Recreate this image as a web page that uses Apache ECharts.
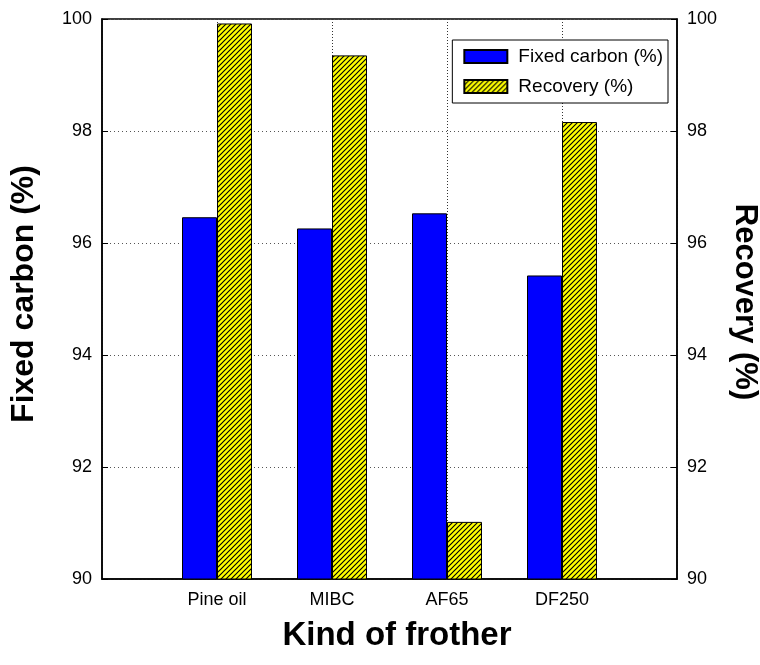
<!DOCTYPE html>
<html>
<head>
<meta charset="utf-8">
<script src="https://cdn.jsdelivr.net/npm/echarts@6/dist/echarts.min.js"></script>
<style>
html,body{margin:0;padding:0;background:#fff;}
#chart{width:760px;height:665px;}
</style>
</head>
<body>
<div id="chart"></div>
<script>
const categories = ['', 'Pine oil', 'MIBC', 'AF65', 'DF250', ''];
const fixedCarbon = ['-', 96.46, 96.26, 96.53, 95.42, '-'];
const recovery = ['-', 99.92, 99.35, 91.02, 98.16, '-'];
const yTicks = { min: 90, max: 100, interval: 2 };

const FONT = '"Liberation Sans", Arial, Helvetica, sans-serif';

function hatch() {
  const s = 5;
  const c = document.createElement('canvas');
  c.width = s; c.height = s;
  const g = c.getContext('2d');
  g.fillStyle = '#ffff00';
  g.fillRect(0, 0, s, s);
  g.strokeStyle = '#000';
  g.lineWidth = 1.15;
  g.beginPath();
  g.moveTo(-1, s + 1); g.lineTo(s + 1, -1);
  g.moveTo(-1, 1); g.lineTo(1, -1);
  g.moveTo(s - 1, s + 1); g.lineTo(s + 1, s - 1);
  g.stroke();
  return c;
}

const chart = echarts.init(document.getElementById('chart'), null, { renderer: 'canvas' });

const yAxisCommon = {
  type: 'value',
  min: yTicks.min, max: yTicks.max, interval: yTicks.interval,
  axisLine: { show: true, lineStyle: { color: '#000', width: 1.5 } },
  axisTick: { show: true, inside: true, length: 6, lineStyle: { color: '#000', width: 1 } },
  axisLabel: { color: '#000', fontSize: 18, fontFamily: FONT, margin: 10 }
};

chart.setOption({
  animation: false,
  backgroundColor: '#fff',
  grid: { left: 102, right: 83, top: 19, bottom: 86, show: true, borderColor: '#000', borderWidth: 1.5 },
  legend: {
    right: 760 - 668, top: 40,
    orient: 'vertical',
    icon: 'rect',
    itemWidth: 43, itemHeight: 13, itemGap: 11,
    padding: [7, 5, 7, 11],
    borderColor: '#000', borderWidth: 1, backgroundColor: '#fff',
    textStyle: { color: '#000', fontSize: 19, fontFamily: FONT, padding: [0, 0, 0, 6] },
    data: ['Fixed carbon (%)', 'Recovery (%)']
  },
  xAxis: {
    type: 'category',
    data: categories,
    boundaryGap: false,
    axisLine: { show: true, lineStyle: { color: '#000', width: 1.5 } },
    axisTick: { show: false },
    axisLabel: { color: '#000', fontSize: 18, fontFamily: FONT, margin: 12, interval: 0 },
    splitLine: { show: true, lineStyle: { color: '#333', type: [1, 2], width: 1 } }
  },
  yAxis: [
    Object.assign({}, yAxisCommon, {
      position: 'left',
      splitLine: { show: true, lineStyle: { color: '#555', type: [1, 3], width: 1 } }
    }),
    Object.assign({}, yAxisCommon, {
      position: 'right',
      splitLine: { show: false }
    })
  ],
  series: [
    {
      name: 'Fixed carbon (%)', type: 'bar', yAxisIndex: 0,
      data: fixedCarbon, barWidth: 35, barGap: '0%',
      itemStyle: { color: '#0000ff', borderColor: '#000', borderWidth: 1 }
    },
    {
      name: 'Recovery (%)', type: 'bar', yAxisIndex: 1,
      data: recovery, barWidth: 35, barGap: '0%',
      itemStyle: { color: { image: hatch(), repeat: 'repeat' }, borderColor: '#000', borderWidth: 1 }
    }
  ],
  graphic: [
    {
      type: 'text', x: 24, y: 294, rotation: Math.PI / 2,
      style: { text: 'Fixed carbon (%)', x: 0, y: 0, textAlign: 'center', textVerticalAlign: 'middle',
        font: 'bold 32px ' + FONT, fill: '#000' }
    },
    {
      type: 'text', x: 745, y: 302, rotation: -Math.PI / 2,
      style: { text: 'Recovery (%)', x: 0, y: 0, textAlign: 'center', textVerticalAlign: 'middle',
        font: 'bold 31px ' + FONT, fill: '#000' }
    },
    {
      type: 'text', x: 397, y: 636,
      style: { text: 'Kind of frother', x: 0, y: 0, textAlign: 'center', textVerticalAlign: 'middle',
        font: 'bold 33px ' + FONT, fill: '#000' }
    }
  ]
});
</script>
</body>
</html>
